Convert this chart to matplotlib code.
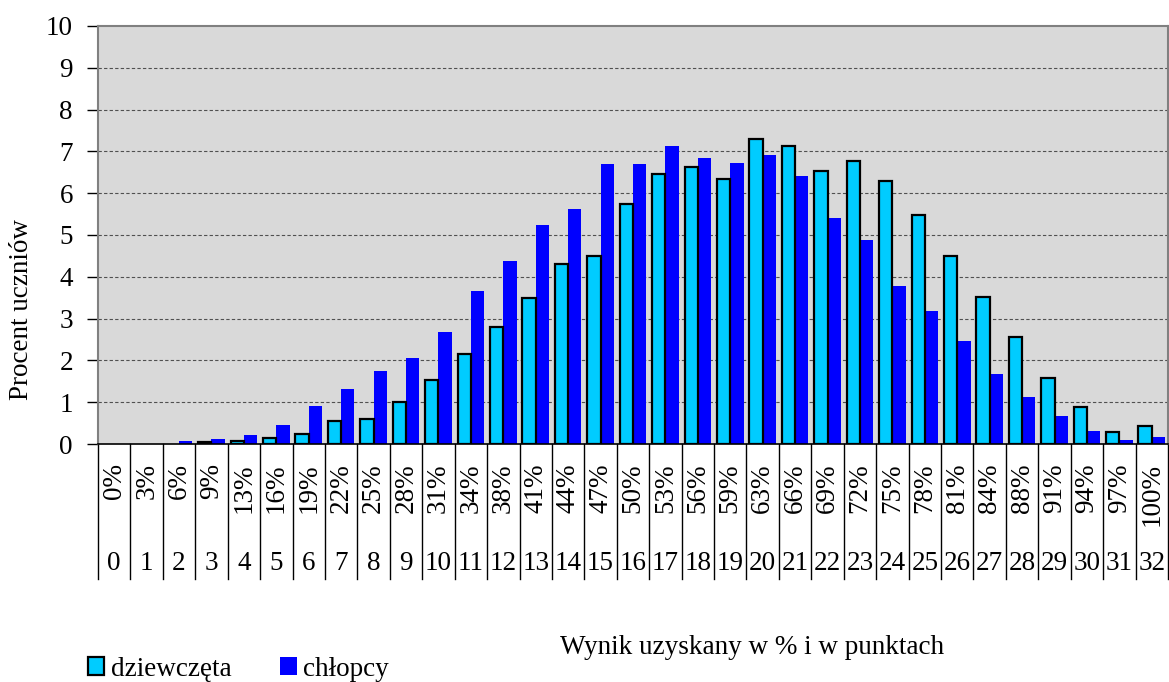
import numpy as np
import matplotlib.pyplot as plt
from matplotlib.patches import Patch
import matplotlib.transforms as mtransforms

plt.rcParams['font.family'] = ['Liberation Serif', 'DejaVu Serif']

# data
points = list(range(33))
percent_labels = ["0%", "3%", "6%", "9%", "13%", "16%", "19%", "22%", "25%", "28%",
                  "31%", "34%", "38%", "41%", "44%", "47%", "50%", "53%", "56%", "59%",
                  "63%", "66%", "69%", "72%", "75%", "78%", "81%", "84%", "88%", "91%",
                  "94%", "97%", "100%"]
girls = [0, 0, 0, 0.04, 0.06, 0.15, 0.23, 0.55, 0.61, 1.0,
         1.52, 2.16, 2.79, 3.5, 4.3, 4.5, 5.74, 6.46, 6.63, 6.34,
         7.3, 7.14, 6.54, 6.76, 6.3, 5.49, 4.49, 3.52, 2.56, 1.57,
         0.89, 0.29, 0.44]
boys = [0, 0, 0.08, 0.12, 0.21, 0.45, 0.9, 1.31, 1.75, 2.05,
        2.67, 3.66, 4.37, 5.24, 5.63, 6.7, 6.7, 7.13, 6.84, 6.72,
        6.91, 6.4, 5.4, 4.87, 3.78, 3.17, 2.46, 1.67, 1.12, 0.67,
        0.3, 0.09, 0.16]

c_girls = '#00CCFF'
c_boys = '#0000FF'
fs = 19.5

fig = plt.figure(figsize=(11.69, 6.82), dpi=100)
ax = fig.add_axes([98/1169, 1-444/682, 1070/1169, 418/682])
ax.set_facecolor('#D9D9D9')

x = np.arange(len(points))
w = 0.41
# no outline on empty bars
edge_w = [1.6 if v > 0 else 0 for v in girls]
ax.bar(x - w/2, girls, w, color=c_girls, edgecolor='black', linewidth=edge_w, zorder=3)
ax.bar(x + w/2, boys, w, color=c_boys, linewidth=0, zorder=2)

ax.set_xlim(-0.5, len(points) - 0.5)
ax.set_ylim(0, 10)
ax.set_yticks(range(0, 11))
ax.set_xticks([])
ax.tick_params(axis='y', direction='out', length=8, width=1, pad=10, labelsize=fs)
for yv in range(1, 10):
    ax.axhline(yv, color='#505050', lw=0.8, ls=(0, (3, 2)), zorder=1)

for s in ['left', 'top', 'right']:
    ax.spines[s].set_color('#808080')
    ax.spines[s].set_linewidth(1.5)
ax.spines['bottom'].set_color('black')
ax.spines['bottom'].set_linewidth(1.2)

# table-like category labels below the axis
trans = mtransforms.blended_transform_factory(ax.transData, ax.transAxes)
for k in range(len(points) + 1):
    ax.plot([k - 0.5, k - 0.5], [0, -0.323], color='black', lw=1,
            transform=trans, clip_on=False)
for k in range(len(points)):
    ax.text(k, -0.046, percent_labels[k], rotation=90, ha='center', va='top',
            fontsize=fs, transform=trans)
    ax.text(k, -0.285, str(points[k]), ha='center', va='center',
            fontsize=fs, transform=trans)

fig.text(22/1169, 1-310/682, 'Procent uczniów', rotation=90,
         ha='center', va='center', fontsize=fs)
fig.text(752/1169, 1-648/682, 'Wynik uzyskany w % i w punktach',
         ha='center', va='center', fontsize=fs)

handles = [Patch(facecolor=c_girls, edgecolor='black', linewidth=1.6),
           Patch(facecolor=c_boys, edgecolor='none')]
fig.legend(handles, ['dziewczęta', 'chłopcy'], loc='center left',
           bbox_to_anchor=(88/1169, 1-669/682), ncol=2, frameon=False,
           fontsize=fs, handlelength=0.6, handleheight=0.6,
           handletextpad=0.25, columnspacing=1.8, borderpad=0, borderaxespad=0)

fig.savefig('out.png', dpi=100)
